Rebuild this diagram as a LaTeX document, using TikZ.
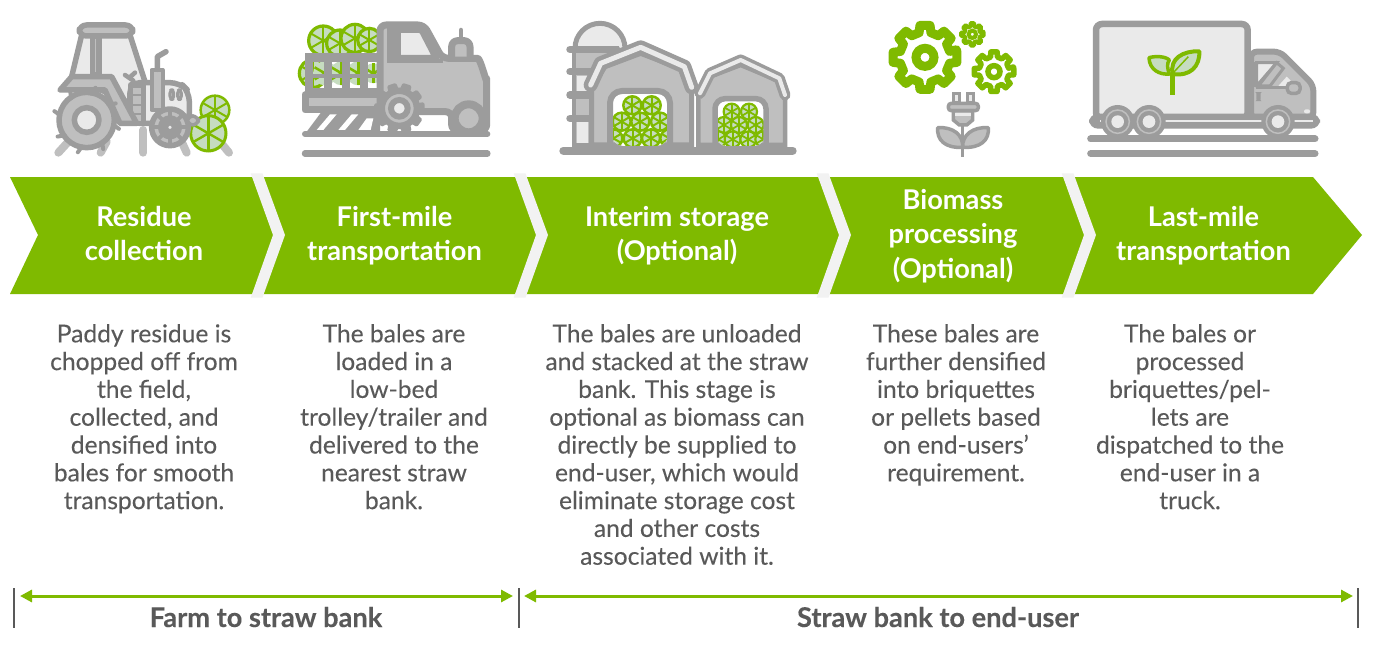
\documentclass[tikz,border=0pt]{standalone}
\usepackage{fontspec}
\setmainfont{Lato}[FakeBold=0.12]
\newfontfamily\titlefont{Lato}
\usetikzlibrary{arrows.meta}
\definecolor{gs}{HTML}{9C9C9C}
\definecolor{gm}{HTML}{BFBFBF}
\definecolor{gl}{HTML}{EAEAEA}
\definecolor{gr}{HTML}{7FBA00}
\definecolor{pg}{HTML}{C6DCC0}
\definecolor{gap}{HTML}{F2F2F2}
\definecolor{txt}{HTML}{595959}
\newcommand{\firstline}{\rule{0pt}{1em}}
\tikzset{
  band/.style={fill=gr,draw=none},
  gapbar/.style={fill=gap,draw=none},
  titletext/.style={text=white,align=center,font=\titlefont\bfseries\fontsize{27.2}{34.5}\selectfont,inner sep=0pt,anchor=north},
  bodytext/.style={text=txt,align=center,font=\fontsize{24.6}{27.8}\selectfont,inner sep=0pt,anchor=north},
  spantext/.style={text=txt,font=\bfseries\fontsize{27.2}{30}\selectfont,inner sep=0pt},
  spanarrow/.style={draw=gr,line width=3pt,{Triangle[length=12pt,width=12pt]}-{Triangle[length=12pt,width=12pt]}},
  tick/.style={draw=txt,line width=1.8pt},
  ol/.style={draw=gs,line width=5.5pt,line join=round,line cap=round},
  olm/.style={ol,fill=gm},
  oll/.style={ol,fill=gl},
  road/.style={draw=gs,line cap=round},
}
\newcommand{\balefig}[4]{%
  \fill[pg] (#1,#2) circle (#3);
  \foreach \a in {0,60,...,300}{\draw[gr,line width=#4*0.8pt] (#1,#2) -- ++(\a+30:#3);}
  \draw[gr,line width=#4 pt] (#1,#2) circle (#3);
}
\newcommand{\gearfig}[7]{%
  \begin{scope}[shift={(#1,#2)}]
    \pgfmathsetmacro{\st}{360/#5}
    \pgfmathsetmacro{\lim}{#5-1}
    \draw[gr,line width=#6pt,line join=round,fill=white]
      (-0.3*\st:#3)
      \foreach \i in {0,...,\lim}{
        -- ({(\i-0.2)*\st}:#3) -- ({(\i+0.2)*\st}:#3) -- ({(\i+0.3)*\st}:#4) -- ({(\i+0.7)*\st}:#4)
      } -- cycle;
    \draw[gr,line width=#6pt] (0,0) circle (#7);
  \end{scope}
}
\newcommand{\tyrefig}[5]{%
  \begin{scope}[shift={(#1,#2)}]
    \pgfmathsetmacro{\st}{360/#5}
    \pgfmathsetmacro{\lim}{#5-1}
    \fill[gs,line join=round,draw=gs,line width=3pt]
      (-0.3*\st:#3)
      \foreach \i in {0,...,\lim}{
        -- ({(\i-0.22)*\st}:#3) -- ({(\i+0.22)*\st}:#3) -- ({(\i+0.32)*\st}:#4) -- ({(\i+0.68)*\st}:#4)
      } -- cycle;
  \end{scope}
}
\begin{document}
\begin{tikzpicture}[x=1pt,y=-1pt]
\useasboundingbox (0,0) rectangle (1379,650);
\fill[white] (0,0) rectangle (1379,650);

\path[band] (10,177) -- (1313,177) -- (1362,235) -- (1313,294) -- (10,294) -- (38,235) -- cycle;
\foreach \x in {252,515,818,1063}{
  \path[gapbar] (\x-1.2,173.5) -- (\x+10.5,173.5) -- (\x+33,235) -- (\x+10.5,297.5) -- (\x-1.2,297.5) -- (\x+21,235) -- cycle;
}

\node[titletext] (t1) at (144,199) {\firstline Residue\\collection};
\node[titletext] (t2) at (394.5,199) {\firstline First-mile\\transportation};
\node[titletext] (t3) at (677,199) {\firstline Interim storage\\(Optional)};
\node[titletext] (t4) at (953,182) {\firstline Biomass\\processing\\(Optional)};
\node[titletext] (t5) at (1203.5,199) {\firstline Last-mile\\transportation};

\node[bodytext] (b1) at (144,317.5) {\firstline Paddy residue is\\chopped off from\\the field,\\collected, and\\densified into\\bales for smooth\\transportation.};
\node[bodytext] (b2) at (394,317.5) {\firstline The bales are\\loaded in a\\low-bed\\trolley/trailer and\\delivered to the\\nearest straw\\bank.};
\node[bodytext] (b3) at (677,317.5) {\firstline The bales are unloaded\\and stacked at the straw\\bank. This stage is\\optional as biomass can\\directly be supplied to\\end-user, which would\\eliminate storage cost\\and other costs\\associated with it.};
\node[bodytext] (b4) at (956,317.5) {\firstline These bales are\\further densified\\into briquettes\\or pellets based\\on end-users’\\requirement.};
\node[bodytext] (b5) at (1190,317.5) {\firstline The bales or\\processed\\briquettes/pel-\\lets are\\dispatched to the\\end-user in a\\truck.};

\coordinate (k1a) at (14,588); \coordinate (k1b) at (14,628);
\coordinate (k2a) at (519,588); \coordinate (k2b) at (519,628);
\coordinate (k3a) at (1358,588); \coordinate (k3b) at (1358,628);
\coordinate (a1) at (20,596); \coordinate (a2) at (513,596);
\coordinate (a3) at (524,596); \coordinate (a4) at (1353,596);
\draw[tick] (k1a) -- (k1b);
\draw[tick] (k2a) -- (k2b);
\draw[tick] (k3a) -- (k3b);
\draw[spanarrow] (a1) -- (a2);
\draw[spanarrow] (a3) -- (a4);
\node[spantext] (s1) at (266,617) {Farm to straw bank};
\node[spantext] (s2) at (938,617) {Straw bank to end-user};

% tractor
\begin{scope}[shift={(30,10)},scale=1/3]
  \foreach \p/\q in {85/115,212/230,470/455,597/570}{\draw[gm,line width=8pt,line cap=round] (\p,428) -- (\q,395);}
  \draw[gm,line width=8pt,line cap=round] (340,428) -- (340,360);
  \draw[oll] (155,75) -- (300,75) -- (345,215) -- (345,300) -- (125,200) -- cycle;
  \draw[olm] (187,78) rectangle (207,195);
  \draw[olm,rounded corners=7pt] (148,45) rectangle (308,78);
  \draw[oll,rounded corners=10pt] (300,218) -- (450,218) -- (478,245) -- (478,340) -- (300,340) -- cycle;
  \draw[olm] (302,225) -- (340,225) -- (340,340) -- (302,340) -- cycle;
  \draw[gs,line width=2pt] (305,255) -- (338,255) (305,285) -- (338,285) (305,312) -- (338,312);
  \draw[olm] (90,240) -- (125,200) -- (245,200) -- (320,340) -- (270,340) -- (225,240) -- cycle;
  \draw[ol,line width=4.5pt] (310,212) -- (285,195) (298,203) -- (315,188);
  \draw[olm,line width=4pt] (365,180) rectangle (398,300);
  \draw[ol] (382,178) -- (382,140) -- (408,125);
  \draw[olm,line width=3pt,rounded corners=3pt] (420,240) rectangle (431,268);
  \draw[olm,line width=3pt,rounded corners=3pt] (443,240) rectangle (454,268);
  \draw[olm] (170,330) circle (83);
  \foreach \a in {10,55,...,360}{\draw[gs,line width=4pt,line cap=round] (170,330) ++(\a:80) -- ++(\a+25:22);}
  \draw[ol,fill=gl] (170,330) circle (37);
  \draw[ol,line width=5pt,line cap=round] (470,330) -- (500,330);
  \balefig{555}{300}{43}{2.5}
  \balefig{535}{370}{53}{3}
  \draw[olm] (420,352) circle (55);
  \foreach \a in {0,45,...,315}{\draw[gs,line width=4pt,line cap=round] (420,352) ++(\a:48) -- ++(\a:-12);}
  \draw[ol,fill=gm] (420,352) circle (28);
  \draw[ol,fill=gl] (420,352) circle (14);
  \draw[olm,rounded corners=6pt,line width=3.5pt] (472,318) rectangle (505,345);
\end{scope}

% trailer tractor
\begin{scope}[shift={(280,10)},scale=1/3]
  \draw[road,line width=6pt] (75,372) -- (622,372);
  \draw[road,line width=6.5pt] (75,431) -- (622,431);
  \fill[gs,line join=round] (125,305) -- (300,305) -- (300,372) -- (75,372) -- cycle;
  \foreach \p in {150,215}{\fill[white] (\p,313) -- (\p+20,313) -- (\p-20,360) -- (\p-40,360) -- cycle;}
  \fill[white] (260,325) -- (280,325) -- (272,360) -- (235,360) -- cycle;
  \fill[white] (432,312) -- (520,312) -- (520,360) -- (415,360) -- cycle;
  \foreach \x/\y/\r in {130/92/44,180/100/40,225/85/42,268/90/35,100/190/42}{
    \fill[pg] (\x,\y) circle (\r);
    \draw[gr,line width=3.2pt] (\x,\y) circle (\r);
    \foreach \a in {30,90,...,330}{\draw[gr,line width=2pt] (\x,\y) -- ++(\a:\r);}
  }
  \foreach \x/\y/\r in {135/190/36,185/190/36,235/190/36,280/190/30}{
    \fill[pg] (\x,\y) circle (\r);
    \foreach \a in {30,90,...,330}{\draw[gr,line width=2.5pt] (\x,\y) -- ++(\a:\r);}
  }
  \fill[gs] (78,130) rectangle (300,155);
  \fill[gs] (78,192) rectangle (300,204);
  \fill[gs] (78,234) rectangle (300,255);
  \foreach \x in {76,131,186,241,290}{\fill[gs] (\x,130) rectangle (\x+24,250);}
  \draw[ol,fill=gm,line width=7pt] (75,255) rectangle (300,300);
  \draw[olm,line width=7pt,rounded corners=6pt] (300,45) -- (432,45) -- (487,145) -- (575,145) to[out=0,in=-90] (620,195) -- (620,362) -- (515,362) -- (515,305) -- (300,305) -- cycle;
  \draw[ol,fill=gl,line width=7pt,rounded corners=2pt] (352,58) -- (425,58) -- (470,145) -- (352,145) -- cycle;
  \fill[gs] (322,50) rectangle (350,155);
  \fill[gs] (322,148) rectangle (490,160);
  \draw[olm,line width=7pt,rounded corners=6pt] (515,140) -- (515,92) -- (570,92) -- (570,140);
  \draw[road,line width=4.5pt] (543,60) -- (543,92);
  \fill[gm] (532,110) rectangle (554,136);
  \tyrefig{358}{295}{72}{58}{10}
  \draw[gs,fill=gm,line width=6pt] (358,295) circle (52);
  \draw[gs,fill=gl,line width=6pt] (358,295) circle (25);
  \draw[gs,fill=gm,line width=8pt] (566,325) circle (42);
\end{scope}

% barns
\begin{scope}[shift={(550,10)},scale=1/3]
  \draw[gs,fill=gl,line width=5pt] (75,115) arc[start angle=180,end angle=360,radius=75];
  \draw[gs,fill=gm,line width=4pt] (72,115) rectangle (200,405);
  \fill[gl] (82,335) rectangle (115,400);
  \fill[gl] (82,198) rectangle (115,255);
  \foreach \y in {118,185,255,325}{\draw[road,line width=7.5pt] (60,\y) -- (200,\y);}
  \draw[gs,fill=gm,line width=5pt] (125,230) -- (165,170) -- (272,130) -- (390,175) -- (425,235) -- (425,405) -- (125,405) -- cycle;
  \draw[gs,line width=14pt,line cap=round,line join=round] (122,225) -- (152,160) -- (272,112) -- (403,170) -- (425,232);
  \draw[gl,line width=5pt,line cap=round,line join=round] (122,225) -- (152,160) -- (272,112) -- (403,170) -- (425,232);
  \draw[gs,fill=gm,line width=4.5pt] (445,255) -- (480,200) -- (572,165) -- (680,210) -- (705,260) -- (705,405) -- (445,405) -- cycle;
  \draw[gs,line width=11pt,line cap=round,line join=round] (450,250) -- (480,190) -- (572,150) -- (688,205) -- (705,255);
  \draw[gl,line width=4pt,line cap=round,line join=round] (450,250) -- (480,190) -- (572,150) -- (688,205) -- (705,255);
  \begin{scope}
    \clip[rounded corners=12pt] (185,250) rectangle (355,408);
    \fill[white] (185,250) rectangle (355,408);
    \foreach \x/\y in {247/286,305/286,215/335,271/335,330/335,190/385,248/385,303/385,358/385}{\balefig{\x}{\y}{27}{2.5}}
  \end{scope}
  \draw[gs,line width=6pt,rounded corners=12pt] (180,408) -- (180,243) -- (360,243) -- (360,408);
  \begin{scope}
    \clip[rounded corners=10pt] (500,272) rectangle (642,408);
    \fill[white] (500,272) rectangle (642,408);
    \foreach \x/\y in {545/305,597/305,522/345,567/345,617/345,505/388,548/388,595/388,640/388}{\balefig{\x}{\y}{24}{2.2}}
  \end{scope}
  \draw[gs,line width=5.5pt,rounded corners=10pt] (495,408) -- (495,266) -- (648,266) -- (648,408);
  \draw[road,line width=8pt] (40,422) -- (728,422);
\end{scope}

% gears
\begin{scope}[shift={(870,10)},scale=1/3]
  \gearfig{165}{142}{97}{76}{8}{9}{27}
  \gearfig{307}{73}{34}{24}{8}{4}{11}
  \gearfig{372}{185}{60}{45}{8}{5.5}{18}
  \draw[gs,line width=3pt] (278,345) -- (278,440);
  \draw[gs,fill=gl,line width=3pt] (250,250) rectangle (268,278);
  \draw[gs,fill=gl,line width=3pt] (292,250) rectangle (310,278);
  \draw[gs,fill=gm,line width=3.5pt,rounded corners=3pt] (235,280) rectangle (325,302);
  \draw[gs,fill=gm,line width=3.5pt] (250,302) -- (308,302) -- (308,330) -- (290,345) -- (268,345) -- (250,330) -- cycle;
  \fill[gl] (256,310) rectangle (302,318);
  \draw[gs,fill=gm,line width=3.5pt,line join=round] (203,353) .. controls (250,350) and (280,375) .. (278,412) .. controls (225,415) and (200,390) .. (203,353) -- cycle;
  \draw[gs,fill=gm,line width=3.5pt,line join=round] (355,353) .. controls (308,350) and (276,375) .. (278,412) .. controls (333,415) and (358,390) .. (355,353) -- cycle;
\end{scope}

% truck
\begin{scope}[shift={(1080,10)},scale=1/3]
  \draw[road,line width=7pt] (32,387) -- (705,387);
  \draw[road,line width=7pt] (32,431) -- (705,431);
  \draw[gs,fill=gl,line width=6.5pt,rounded corners=6pt] (48,42) rectangle (503,325);
  \draw[gs,fill=gm,line width=6pt,rounded corners=6pt] (513,125) -- (600,125) -- (700,225) -- (700,325) -- (513,325) -- cycle;
  \draw[gs,fill=gl,line width=3pt] (530,158) -- (590,158) -- (535,222) -- (530,222) -- cycle;
  \draw[gs,fill=gm,line width=3pt] (590,158) -- (610,175) -- (570,228) -- (535,228) -- cycle;
  \fill[gl] (595,228) -- (620,200) -- (632,212) -- (625,228) -- cycle;
  \draw[gs,line width=3.5pt] (527,232) -- (625,232) (527,155) -- (527,232);
  \draw[gs,fill=gm,line width=3.5pt,rounded corners=4pt] (622,218) rectangle (660,250);
  \draw[gs,line width=2.5pt,rounded corners=1pt] (533,250) rectangle (538,270);
  \draw[gs,fill=gs,line width=2pt,rounded corners=8pt] (30,314) rectangle (717,353);
  \draw[gl,line width=1.4pt] (60,333) -- (700,333);
  \foreach \x in {113,207,594}{
    \fill[gs] (\x,335) circle (50);
    \draw[gm,fill=gs,line width=1.5pt] (\x,335) circle (35);
    \fill[gl] (\x,335) circle (19);
  }
  \fill[gl,rounded corners=2pt] (672,298) rectangle (690,310);
  \draw[gr,line width=5.5pt] (278,195) -- (278,255);
  \draw[gr,fill=pg,line width=3.5pt,line join=round] (207,143) .. controls (225,138) and (255,138) .. (268,150) .. controls (260,160) and (262,175) .. (268,192) .. controls (240,195) and (208,180) .. (207,143) -- cycle;
  \draw[gr,fill=pg,line width=4pt,line join=round] (278,192) .. controls (268,145) and (310,122) .. (358,124) .. controls (360,170) and (330,200) .. (278,192) -- cycle;
  \draw[gr,line width=1.5pt] (278,190) -- (325,140);
\end{scope}
\end{tikzpicture}
\end{document}
